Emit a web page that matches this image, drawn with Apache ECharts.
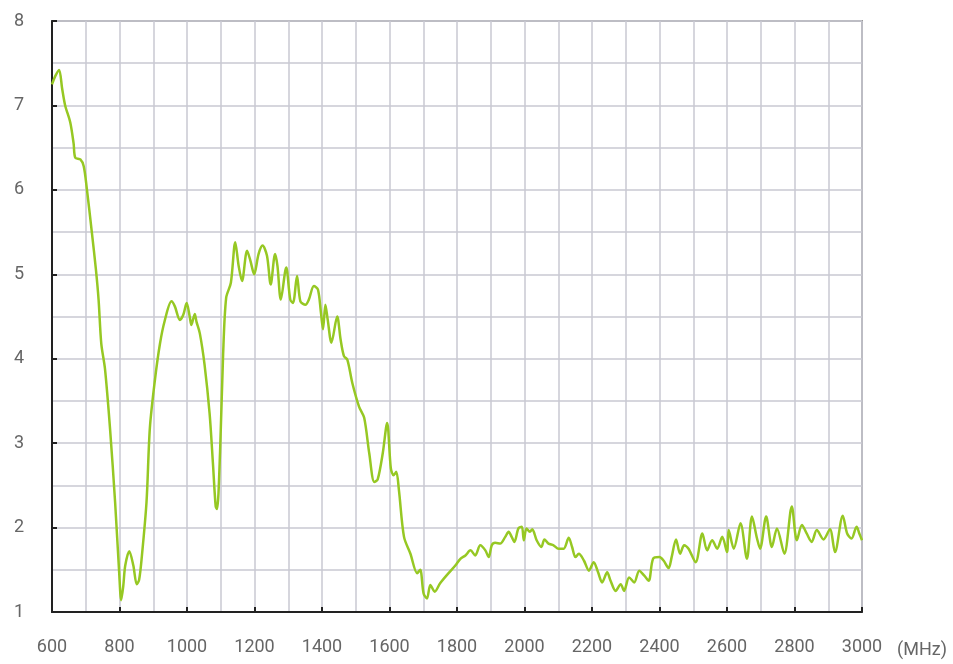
<!DOCTYPE html>
<html>
<head>
<meta charset="utf-8">
<script src="https://cdn.jsdelivr.net/npm/echarts@6/dist/echarts.min.js"></script>
<style>html,body{margin:0;padding:0;background:#fff;}#c{width:953px;height:664px;}</style>
</head>
<body>
<div id="c"></div>
<script>
var freqs = [600,610,621,630,639,654,664,669,684,694,703,718,730,738,746,757,772,787,799,805,811,817,829,841,851,858,866,880,890,905,920,934,954,964,979,989,999,1008,1013,1023,1028,1038,1052,1067,1077,1085,1089,1098,1107,1116,1130,1143,1153,1163,1178,1188,1199,1212,1224,1237,1248,1261,1268,1278,1294,1306,1314,1326,1336,1351,1361,1376,1388,1397,1403,1410,1417,1428,1445,1455,1465,1475,1490,1510,1525,1540,1555,1565,1580,1593,1604,1612,1620,1628,1643,1662,1682,1691,1701,1711,1721,1734,1750,1775,1795,1810,1825,1840,1854,1869,1884,1894,1903,1913,1928,1943,1953,1962,1970,1982,1992,1998,2006,2016,2023,2036,2050,2059,2071,2086,2101,2116,2131,2141,2151,2161,2176,2191,2205,2218,2230,2245,2255,2270,2285,2295,2310,2325,2340,2355,2368,2381,2400,2412,2427,2436,2449,2461,2473,2486,2507,2527,2541,2556,2571,2586,2600,2605,2620,2640,2659,2674,2689,2698,2716,2733,2748,2770,2792,2807,2822,2836,2851,2866,2886,2905,2920,2943,2956,2969,2984,2992,3000];
var values = [7.25,7.35,7.42,7.2,7.0,6.8,6.55,6.38,6.36,6.28,6.02,5.5,5.06,4.7,4.18,3.88,3.17,2.3,1.47,1.14,1.3,1.55,1.72,1.55,1.33,1.38,1.65,2.3,3.18,3.75,4.18,4.45,4.68,4.62,4.46,4.52,4.66,4.5,4.4,4.53,4.44,4.3,3.93,3.35,2.75,2.25,2.22,2.9,4.05,4.72,4.9,5.38,5.1,4.92,5.28,5.16,5.0,5.24,5.34,5.22,4.88,5.24,5.1,4.7,5.08,4.7,4.66,4.98,4.68,4.64,4.7,4.86,4.82,4.54,4.35,4.64,4.46,4.19,4.5,4.23,4.03,3.99,3.71,3.43,3.3,2.88,2.54,2.57,2.88,3.24,2.7,2.62,2.66,2.44,1.89,1.69,1.46,1.5,1.22,1.16,1.32,1.24,1.34,1.46,1.55,1.63,1.67,1.73,1.67,1.79,1.73,1.65,1.79,1.82,1.81,1.89,1.95,1.89,1.83,1.99,2.01,1.85,1.99,1.95,1.98,1.85,1.77,1.86,1.81,1.79,1.75,1.75,1.88,1.77,1.65,1.69,1.61,1.49,1.59,1.47,1.35,1.47,1.37,1.25,1.33,1.25,1.41,1.35,1.49,1.43,1.37,1.63,1.65,1.61,1.52,1.65,1.86,1.69,1.79,1.75,1.59,1.93,1.73,1.85,1.75,1.89,1.71,1.97,1.75,2.05,1.63,2.13,1.87,1.75,2.13,1.77,1.99,1.69,2.25,1.85,2.03,1.93,1.83,1.97,1.86,1.98,1.71,2.14,1.93,1.87,2.01,1.93,1.85];
var xTicks = [600,800,1000,1200,1400,1600,1800,2000,2200,2400,2600,2800,3000];
var yTicks = [1,2,3,4,5,6,7,8];
var xUnit = '(MHz)';

var pts = freqs.map(function(f, i){ return [f, values[i]]; });
var labelStyle = {color:'#666', fontSize:18, fontFamily:'Roboto'};
var chart = echarts.init(document.getElementById('c'), null, {renderer:'canvas'});
chart.setOption({
  animation:false,
  backgroundColor:'#fff',
  grid:{left:52, right:91, top:21, bottom:52, show:true, borderColor:'#9a9a9a', borderWidth:2, backgroundColor:'transparent'},
  xAxis:{
    type:'value', min:xTicks[0], max:xTicks[xTicks.length-1], interval:200,
    name:xUnit, nameLocation:'end', nameGap:35,
    nameTextStyle:{color:'#666', fontSize:18, fontFamily:'Roboto', verticalAlign:'top', padding:[29,0,0,0]},
    axisLine:{show:true, onZero:false, lineStyle:{color:'#222', width:2}},
    axisTick:{show:true, inside:true, length:5, lineStyle:{color:'#222', width:2}},
    minorTick:{show:false, splitNumber:2},
    axisLabel:Object.assign({margin:26, formatter:function(v){ return String(v); }}, labelStyle),
    splitLine:{show:true, lineStyle:{color:'#c9c9d2', width:1.5}},
    minorSplitLine:{show:true, lineStyle:{color:'#c9c9d2', width:1.5}}
  },
  yAxis:{
    type:'value', min:yTicks[0], max:yTicks[yTicks.length-1], interval:1,
    axisLine:{show:true, onZero:false, lineStyle:{color:'#222', width:2}},
    axisTick:{show:true, inside:true, length:5, lineStyle:{color:'#222', width:2}},
    minorTick:{show:false, splitNumber:2},
    axisLabel:Object.assign({margin:28, formatter:function(v){ return String(v); }}, labelStyle),
    splitLine:{show:true, lineStyle:{color:'#c9c9d2', width:1.5}},
    minorSplitLine:{show:true, lineStyle:{color:'#c9c9d2', width:1.5}}
  },
  series:[{
    type:'line', data:pts, smooth:0.3, showSymbol:false,
    lineStyle:{color:'#96c823', width:2.5}
  }]
});
</script>
</body>
</html>
